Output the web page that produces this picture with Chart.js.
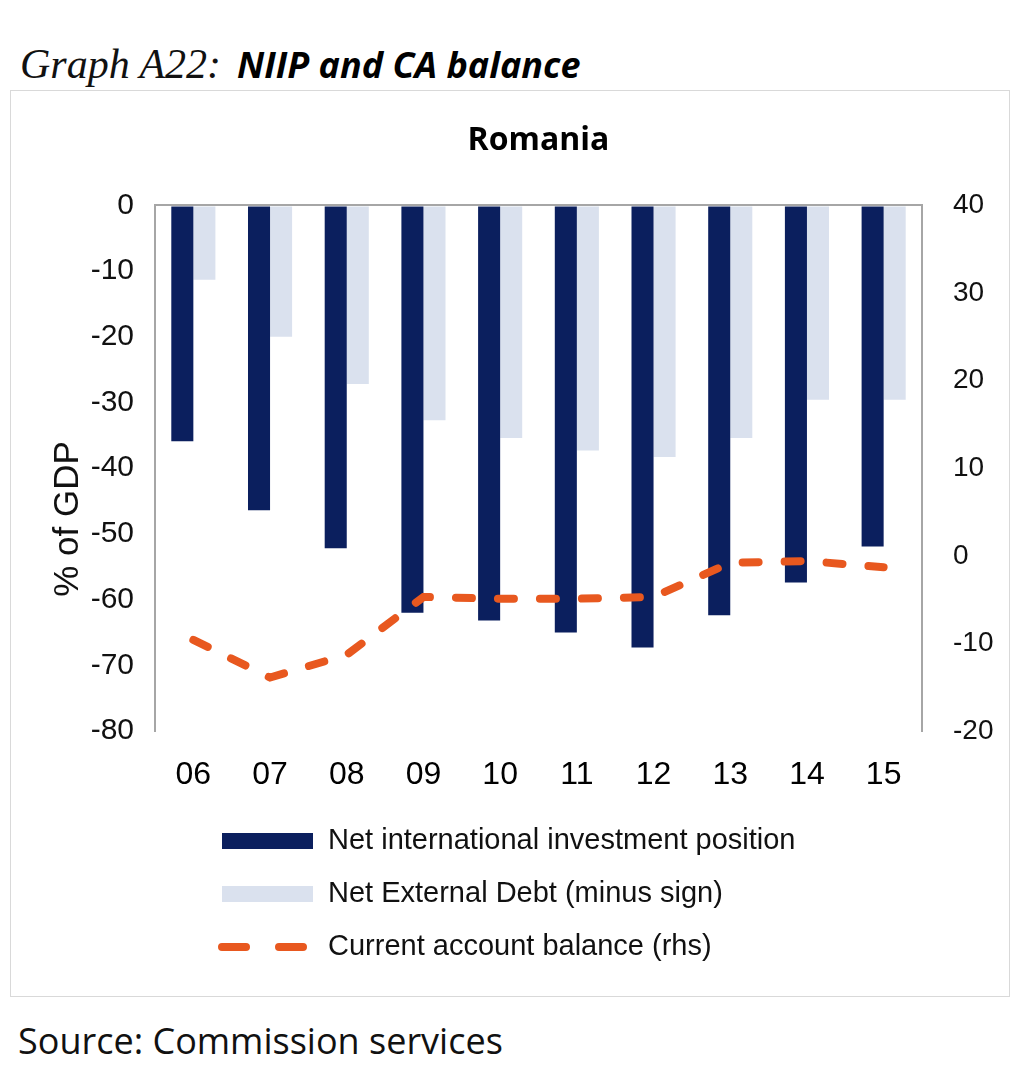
<!DOCTYPE html>
<html>
<head>
<meta charset="utf-8">
<script src="https://cdn.jsdelivr.net/npm/chart.js@4.4.1/dist/chart.umd.min.js"></script>
<style>
  body { margin: 0; background: #fff; width: 1024px; height: 1083px; position: relative; overflow: hidden; }
  #head { position: absolute; left: 20px; top: 40px; white-space: nowrap; }
  #head .num { font-family: "Liberation Serif", serif; font-style: italic; font-size: 42px; color: #111; }
  #head .name { font-family: "Open Sans", sans-serif; font-style: italic; font-weight: 700; font-size: 36px; color: #000; margin-left: 16px; }
  #box { position: absolute; left: 10px; top: 90px; width: 998px; height: 905px; border: 1px solid #d9d9d9; }
  #src { position: absolute; left: 18px; top: 1016px; font-family: "Open Sans", sans-serif; font-size: 36px; color: #111; }
</style>
</head>
<body>
<div id="head"><span class="num">Graph A22:</span><span class="name">NIIP and CA balance</span></div>
<div id="box"><canvas id="chart" width="998" height="905"></canvas></div>
<div id="src">Source: Commission services</div>
<script>
const years = ['06', '07', '08', '09', '10', '11', '12', '13', '14', '15'];
const niip = [-35.9, -46.4, -52.2, -62, -63.2, -65, -67.3, -62.4, -57.4, -51.9];
const netExtDebt = [-11.3, -20, -27.2, -32.7, -35.4, -37.3, -38.3, -35.4, -29.6, -29.6];
const caBalance = [-9.6, -13.9, -11.3, -4.7, -4.9, -4.9, -4.7, -0.8, -0.6, -1.3];

const axisGrey = '#a6a6a6';

// legend drawn by hand: one entry per row, like the Excel original
const sideLegend = {
  id: 'sideLegend',
  afterDraw(chart, args, opts) {
    const ctx = chart.ctx;
    ctx.save();
    chart.data.datasets.forEach((ds, i) => {
      const y = opts.top + i * opts.rowGap;
      if (ds.type === 'line') {
        ctx.strokeStyle = ds.borderColor;
        ctx.lineWidth = ds.borderWidth;
        ctx.lineCap = 'round';
        ctx.beginPath();
        ctx.moveTo(opts.left + 6, y); ctx.lineTo(opts.left + 30, y);
        ctx.moveTo(opts.left + 63, y); ctx.lineTo(opts.left + 87, y);
        ctx.stroke();
      } else {
        ctx.fillStyle = ds.backgroundColor;
        ctx.fillRect(opts.left + 6, y - 8, 91, 16);
      }
      ctx.fillStyle = '#111';
      ctx.font = '29px "Liberation Sans"';
      ctx.textBaseline = 'middle';
      ctx.fillText(ds.label, opts.left + 112, y);
    });
    // rotated y title placed where the original has it
    ctx.translate(opts.titleX, opts.titleY);
    ctx.rotate(-Math.PI / 2);
    ctx.textAlign = 'center';
    ctx.font = '35px "Liberation Sans"';
    ctx.fillText('% of GDP', 0, 0);
    ctx.restore();
  }
};

new Chart(document.getElementById('chart'), {
  data: {
    labels: years,
    datasets: [
      {
        type: 'bar',
        label: 'Net international investment position',
        data: niip,
        yAxisID: 'y',
        backgroundColor: '#0b1f5e',
        barPercentage: 1,
        categoryPercentage: 0.575,
        order: 1,
      },
      {
        type: 'bar',
        label: 'Net External Debt (minus sign)',
        data: netExtDebt,
        yAxisID: 'y',
        backgroundColor: '#dae1ee',
        barPercentage: 1,
        categoryPercentage: 0.575,
        order: 1,
      },
      {
        type: 'line',
        label: 'Current account balance (rhs)',
        data: caBalance,
        yAxisID: 'y1',
        borderColor: '#e8581f',
        borderWidth: 8,
        borderDash: [16, 26],
        borderCapStyle: 'round',
        pointRadius: 0,
        tension: 0,
        order: 0,
      },
    ],
  },
  options: {
    responsive: false,
    animation: false,
    layout: { padding: 0 },
    plugins: {
      legend: { display: false },
      tooltip: { enabled: false },
      title: {
        display: true,
        fullSize: false,
        text: 'Romania',
        color: '#000',
        font: { family: 'Open Sans', weight: 'bold', size: 32 },
        padding: { top: 31, bottom: 45 },
      },
      sideLegend: { left: 205, top: 750, rowGap: 53, titleX: 57, titleY: 428 },
    },
    scales: {
      x: {
        grid: { display: false },
        border: { display: false },
        ticks: { color: '#000', font: { family: 'Liberation Sans', size: 32 }, padding: 17 },
        afterFit: (s) => { s.height = 265; },
      },
      y: {
        position: 'left',
        min: -80,
        max: 0,
        ticks: { stepSize: 10, color: '#111', font: { family: 'Liberation Sans', size: 30 }, padding: 21 },
        grid: {
          drawTicks: false,
          color: (c) => (c.tick && c.tick.value === 0 ? axisGrey : 'transparent'),
          lineWidth: 2,
        },
        border: { color: axisGrey, width: 2 },
        afterFit: (s) => { s.width = 144; },
      },
      y1: {
        position: 'right',
        min: -20,
        max: 40,
        ticks: { stepSize: 10, color: '#111', font: { family: 'Liberation Sans', size: 28 }, padding: 31 },
        grid: { drawOnChartArea: false, drawTicks: false },
        border: { color: axisGrey, width: 2 },
        afterFit: (s) => { s.width = 87; },
      },
    },
  },
  plugins: [sideLegend],
});
</script>
</body>
</html>
